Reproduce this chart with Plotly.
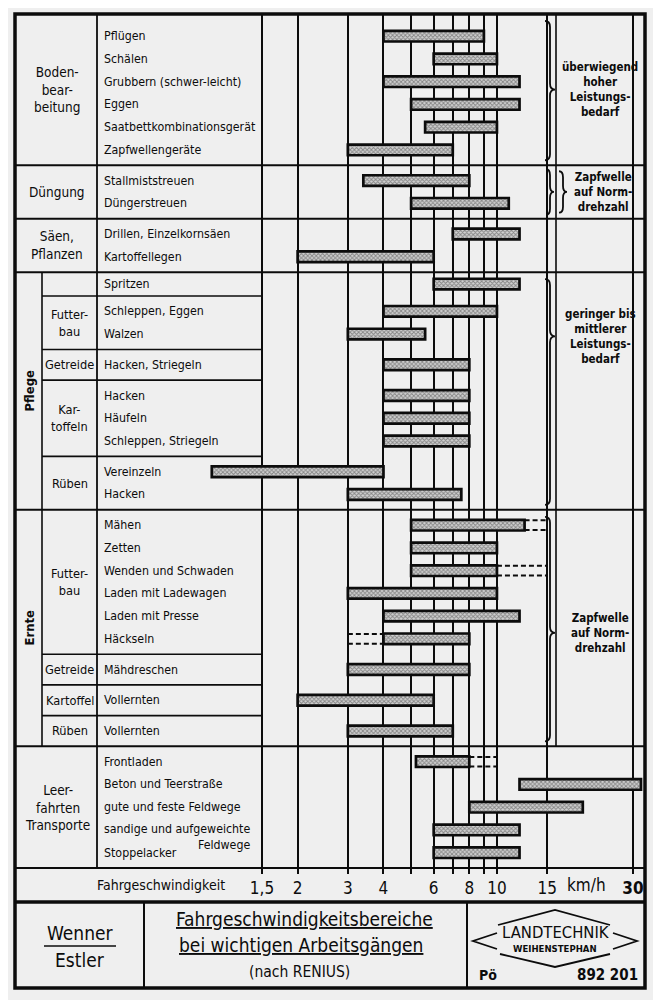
import math
import plotly.graph_objects as go

W, H = 661, 1000
OFF = 8  # the page body adds an 8 px margin around the figure

# ---- data ----------------------------------------------------------------
activities = [
    "Pflügen", "Schälen", "Grubbern (schwer-leicht)", "Eggen",
    "Saatbettkombinationsgerät", "Zapfwellengeräte",
    "Stallmiststreuen", "Düngerstreuen",
    "Drillen, Einzelkornsäen", "Kartoffellegen",
    "Spritzen", "Schleppen, Eggen", "Walzen", "Hacken, Striegeln",
    "Hacken", "Häufeln", "Schleppen, Striegeln", "Vereinzeln", "Hacken",
    "Mähen", "Zetten", "Wenden und Schwaden", "Laden mit Ladewagen",
    "Laden mit Presse", "Häckseln", "Mähdreschen", "Vollernten", "Vollernten",
    "Frontladen", "Beton und Teerstraße", "gute und feste Feldwege",
    "sandige und aufgeweichte<br>Feldwege", "Stoppelacker",
]
speed_min = [4, 6, 4, 5, 5.6, 3,
             3.4, 5,
             7, 2,
             6, 4, 3, 4, 4, 4, 4, 1, 3,
             5, 5, 5, 3, 4, 4, 3, 2, 3,
             5.2, 12, 8, 6, 6]
speed_max = [9, 10, 12, 12, 10, 7,
             8, 11,
             12, 6,
             12, 10, 5.6, 8, 8, 8, 8, 4, 7.5,
             12.5, 10, 10, 10, 12, 8, 8, 6, 7,
             8, 32, 20, 12, 12]

# dashed extensions of some ranges
ext_row = [19, 21, 24, 28]
ext_from = [12.5, 10, 3, 8]
ext_to = [15, 15, 4, 10]

sub_section = ["Boden", "Düngung", "Säen", "Pflege", "Pflege", "Pflege",
               "Pflege", "Pflege", "Ernte", "Ernte", "Ernte", "Ernte", "Leer"]
sub_name = ["", "", "", "", "Futter-<br>bau", "Getreide", "Kar-<br>toffeln",
            "Rüben", "Futter-<br>bau", "Getreide", "Kartoffel", "Rüben", ""]
sub_rows = [6, 2, 2, 1, 2, 1, 3, 2, 6, 1, 1, 1, 5]

section_key = ["Boden", "Düngung", "Säen", "Pflege", "Ernte", "Leer"]
section_label = ["Boden-<br>bear-<br>beitung", "Düngung", "Säen,<br>Pflanzen",
                 "Pflege", "Ernte", "Leer-<br>fahrten<br>Transporte"]

note_section = ["Boden", "Düngung", "Pflege", "Ernte"]
note_text = ["überwiegend<br>hoher<br>Leistungs-<br>bedarf",
             "Zapfwelle<br>auf Norm-<br>drehzahl",
             "geringer bis<br>mittlerer<br>Leistungs-<br>bedarf",
             "Zapfwelle<br>auf Norm-<br>drehzahl"]
note_tip = [0.5, 0.5, 0.27, 0.52]

tick_vals = [1.5, 2, 3, 4, 6, 8, 10, 15, 30]
tick_text = ["1,5", "2", "3", "4", "6", "8", "10", "15", "<b>30</b>"]
minor_vals = [5, 7, 9]

# ---- layout geometry (pixels of the page) --------------------------------
FONT = "DejaVu Sans Condensed, DejaVu Sans, sans-serif"
INK = "#0c0c0c"
BG = "#efefef"
LEFT, RIGHT = 15, 645
TOP, AXIS_Y, FOOT_TOP, FOOT_BOTTOM = 14, 868, 902, 988
COL_SEC, COL_ACT, COL_NOTE = 42, 97, 556
X15, X30 = 262, 633  # pixel of 1.5 and 30 km/h

FW, FH = W - OFF, H - OFF

PAD = 0.35        # padding inside each sub-group box (row units)
HEAD_GAP = 0.3    # extra space above the first block
sectioned = {s for s, n in zip(sub_section, sub_name) if n}

row_y, sub_top, sub_bot = [], [], []
y = 0.0
for i, (s, name, n) in enumerate(zip(sub_section, sub_name, sub_rows)):
    pad = 0.05 if (s in sectioned and not name) else PAD
    sub_top.append(y)
    y += pad / 2 + (HEAD_GAP if i == 0 else 0)
    for j in range(n):
        row_y.append(y + 0.5)
        y += 1
    y += pad / 2
    sub_bot.append(y)
total = y
unit = (AXIS_Y - TOP) / total


def ypx(u):
    return TOP + u * unit


def X(p):
    return (p - OFF) / FW


def Y(p):
    return 1 - (p - OFF) / FH


sec_top = {}
sec_bot = {}
for s, t, b in zip(sub_section, sub_top, sub_bot):
    sec_top.setdefault(s, t)
    sec_bot[s] = b

k = (X30 - X15) / math.log10(30 / 1.5)
x_lo = math.log10(1.5) - (X15 - LEFT) / k
x_hi = math.log10(1.5) + (RIGHT - X15) / k

fig = go.Figure()

fig.add_trace(go.Bar(
    y=row_y,
    x=[b - a for a, b in zip(speed_min, speed_max)],
    base=speed_min,
    orientation="h",
    width=0.47,
    marker=dict(
        color="#c8c8c8",
        line=dict(color=INK, width=2.7),
        pattern=dict(shape="x", size=3, solidity=0.5,
                     fgcolor="#3a3a3a", bgcolor="#d0d0d0"),
    ),
    hoverinfo="skip",
    showlegend=False,
))

for r, a, b in zip(ext_row, ext_from, ext_to):
    yy = row_y[r]
    fig.add_trace(go.Scatter(
        x=[a, b, None, a, b],
        y=[yy - 0.21, yy - 0.21, None, yy + 0.21, yy + 0.21],
        mode="lines",
        line=dict(color=INK, width=2, dash="5px,3px"),
        hoverinfo="skip",
        showlegend=False,
    ))

shapes = []


def line(x0, y0, x1, y1, w=1.6):
    shapes.append(dict(type="line", xref="paper", yref="paper",
                       x0=X(x0), y0=Y(y0), x1=X(x1), y1=Y(y1),
                       line=dict(color=INK, width=w)))


# section separators (full width) and sub-group separators (label area)
for s in section_key[:-1]:
    line(LEFT, ypx(sec_bot[s]), RIGHT, ypx(sec_bot[s]), 2)
for i in range(len(sub_rows) - 1):
    if sub_section[i] == sub_section[i + 1]:
        line(COL_SEC, ypx(sub_bot[i]), X15, ypx(sub_bot[i]), 1.6)

line(COL_ACT, TOP, COL_ACT, AXIS_Y, 1.8)
line(COL_SEC, ypx(sec_top["Pflege"]), COL_SEC, ypx(sec_bot["Ernte"]), 1.6)
line(COL_NOTE, TOP, COL_NOTE, ypx(sec_bot["Ernte"]), 1.6)
line(LEFT, AXIS_Y, RIGHT, AXIS_Y, 2)

# outer frame and foot block
shapes.append(dict(type="rect", xref="paper", yref="paper",
                   x0=X(LEFT), x1=X(RIGHT), y0=Y(TOP), y1=Y(FOOT_BOTTOM),
                   line=dict(color=INK, width=3.5)))
line(LEFT, FOOT_TOP, RIGHT, FOOT_TOP, 3.5)
line(144, FOOT_TOP, 144, FOOT_BOTTOM, 2)
line(467, FOOT_TOP, 467, FOOT_BOTTOM, 2)
line(44, 946, 116, 946, 1.6)


def brace(x, y0, y1, ytip, w=9):
    xm = x + w / 2
    r = min(6, (y1 - y0) / 6)
    d = (f"M {X(x)},{Y(y0)} Q {X(xm)},{Y(y0)} {X(xm)},{Y(y0 + r)} "
         f"L {X(xm)},{Y(ytip - r)} Q {X(xm)},{Y(ytip)} {X(x + w)},{Y(ytip)} "
         f"Q {X(xm)},{Y(ytip)} {X(xm)},{Y(ytip + r)} "
         f"L {X(xm)},{Y(y1 - r)} Q {X(xm)},{Y(y1)} {X(x)},{Y(y1)}")
    shapes.append(dict(type="path", xref="paper", yref="paper", path=d,
                       line=dict(color=INK, width=1.8)))


# logo
for seg in [[(498, 925), (555, 910), (610, 925)],
            [(497, 933), (473, 941), (497, 949)],
            [(613, 933), (637, 941), (613, 949)],
            [(500, 954), (555, 967), (610, 954)]]:
    d = "M " + " L ".join(f"{X(a)},{Y(b)}" for a, b in seg)
    shapes.append(dict(type="path", xref="paper", yref="paper", path=d,
                       line=dict(color=INK, width=1.8)))

ann = []


def text(x, yp, s, size=14, anchor="center", bold=False, angle=0, yref="paper",
         align="center", yshift=0):
    ann.append(dict(x=X(x), y=Y(yp) if yref == "paper" else yp, xref="paper",
                    yref=yref, text=f"<b>{s}</b>" if bold else s,
                    showarrow=False, xanchor=anchor, yanchor="middle",
                    align=align, textangle=angle, yshift=yshift,
                    font=dict(family=FONT, size=size, color=INK)))


for name, yy in zip(activities, row_y):
    nl = name.count("<br>")
    text(102, yy, name, size=12.3, anchor="left", yref="y", align="right",
         yshift=-7 * nl)

for key, lab in zip(section_key, section_label):
    yc = ypx((sec_top[key] + sec_bot[key]) / 2)
    if key in ("Pflege", "Ernte"):
        text((LEFT + COL_SEC) / 2 + 1, yc, lab, size=13, angle=-90, bold=True)
    else:
        text((LEFT + COL_ACT) / 2 + 1, yc, lab, size=13.5)

for s, name, t, b in zip(sub_section, sub_name, sub_top, sub_bot):
    if name:
        text((COL_SEC + COL_ACT) / 2, ypx((t + b) / 2), name, size=12.7)

for key, note, f in zip(note_section, note_text, note_tip):
    t, b = ypx(sec_top[key]), ypx(sec_bot[key])
    tip = t + f * (b - t)
    if key == "Düngung":
        brace(546, t + 4, b - 4, tip, 8)
        brace(559, t + 6, b - 6, tip, 8)
        text(603, tip, note, size=11.5, bold=True)
    else:
        brace(545, t + 7, b - 5, tip, 10)
        text(600, tip, note, size=11.5, bold=True)

text(161, 885, "Fahrgeschwindigkeit", size=14)
text(586, 885, "km/h", size=17)

text(80, 933, "Wenner", size=19)
text(80, 960, "Estler", size=19)
text(304, 919, "<u>Fahrgeschwindigkeitsbereiche</u>", size=19)
text(301, 945, "<u>bei wichtigen Arbeitsgängen</u>", size=19)
text(299, 972, "(nach RENIUS)", size=15.5)
text(556, 932, "LANDTECHNIK", size=16.5)
text(555, 948, "WEIHENSTEPHAN", size=9.5, bold=True)
text(488, 975, "Pö", size=14, bold=True)
text(607, 975, "892 201", size=15, bold=True)

fig.update_layout(
    width=FW, height=FH,
    margin=dict(l=0, r=0, t=0, b=0),
    paper_bgcolor=BG, plot_bgcolor=BG,
    showlegend=False,
    shapes=shapes,
    annotations=ann,
    xaxis=dict(
        type="log", range=[x_lo, x_hi], domain=[X(LEFT), X(RIGHT)],
        tickmode="array", tickvals=tick_vals, ticktext=tick_text,
        showgrid=True, gridcolor=INK, gridwidth=1.7,
        ticks="outside", ticklen=5, tickwidth=1.7, tickcolor=INK,
        tickfont=dict(family=FONT, size=17, color=INK),
        minor=dict(tickvals=minor_vals, showgrid=True, gridcolor=INK,
                   gridwidth=1.7, ticks="outside", ticklen=5, tickcolor=INK),
        showline=False, zeroline=False, fixedrange=True,
    ),
    yaxis=dict(range=[total, 0], domain=[Y(AXIS_Y), Y(TOP)], visible=False,
               fixedrange=True),
)

fig.write_html("out.html")
